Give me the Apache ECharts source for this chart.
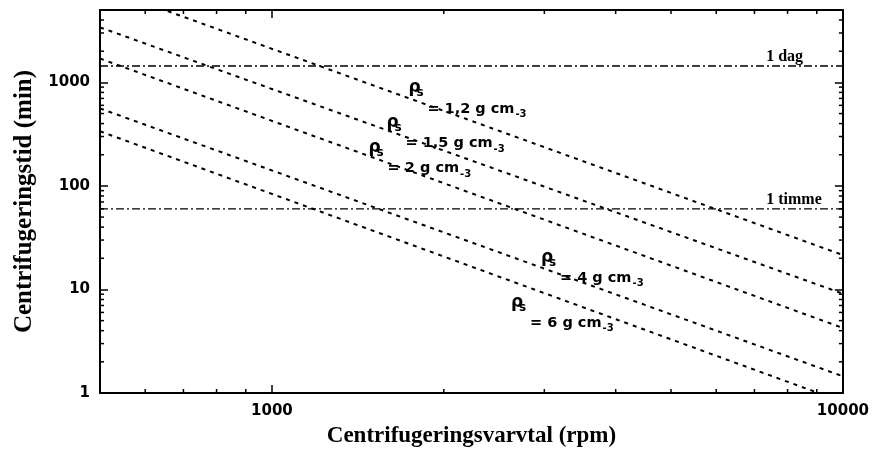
<!DOCTYPE html>
<html>
<head>
<meta charset="utf-8">
<script src="https://cdn.jsdelivr.net/npm/echarts@6/dist/echarts.min.js"></script>
<style>
  html, body { margin: 0; padding: 0; background: #fff; }
  #chart { width: 872px; height: 454px; }
</style>
</head>
<body>
<div id="chart"></div>
<script>
// Axis ranges (both logarithmic)
const rpmRange = [500, 10000];
const timeRange = [1, 5000];
const xTickLabels = [1000, 10000];
const yTickLabels = [1, 10, 100, 1000];
const xMinorTicks = [600, 700, 800, 900, 2000, 3000, 4000, 5000, 6000, 7000, 8000, 9000];
const yMinorTicks = [2, 3, 4, 5, 6, 7, 8, 9, 20, 30, 40, 50, 60, 70, 80, 90,
                     200, 300, 400, 500, 600, 700, 800, 900, 2000, 3000, 4000];

// Settling time (min) at the two ends of the speed range, one curve per particle density
const densities = ['1,2', '1,5', '2', '4', '6'];
const rpmEnds = [500, 10000];
const time12 = [8400, 21.5];
const time15 = [3400, 9.1];
const time2 = [1700, 4.25];
const time4 = [560, 1.45];
const time6 = [337, 0.82];
const curves = [time12, time15, time2, time4, time6];

// Reference durations (min)
const refLabels = ['1 dag', '1 timme'];
const refTimes = [1440, 60];
const refLabelRpm = 7340;

// Density labels: anchor of the rho symbol in data units (rpm, min)
const annRpm = [1741, 1594, 1483, 2972, 2634];
const annTime = [915, 422, 242, 21.2, 7.8];

const SANS = '"DejaVu Sans", sans-serif';
const SERIF = '"Liberation Serif", "Times New Roman", serif';

const chart = echarts.init(document.getElementById('chart'), null, { renderer: 'canvas' });

const axisLine = { show: true, onZero: false, lineStyle: { color: '#000', width: 2 } };
const majorTick = { show: true, inside: true, length: 8, lineStyle: { color: '#000', width: 1.5 } };

const series = curves.map((t, i) => ({
  type: 'line',
  name: densities[i],
  data: rpmEnds.map((r, k) => [r, t[k]]),
  symbol: 'none',
  clip: true,
  silent: true,
  lineStyle: { color: '#000', width: 2, type: [4, 5] }
}));

refTimes.forEach((t, i) => {
  series.push({
    type: 'line',
    name: refLabels[i],
    data: rpmRange.map(r => [r, t]),
    symbol: 'none',
    silent: true,
    lineStyle: { color: '#000', width: 1.3, type: [8, 3, 2, 3] }
  });
});

chart.setOption({
  animation: false,
  backgroundColor: '#fff',
  grid: { left: 100, right: 28, top: 10, bottom: 61, containLabel: false },
  xAxis: [{
    type: 'log', logBase: 10, min: rpmRange[0], max: rpmRange[1],
    position: 'bottom',
    axisLine, axisTick: majorTick,
    splitLine: { show: false },
    axisLabel: {
      formatter: v => (xTickLabels.includes(v) ? String(v) : ''),
      color: '#000', fontFamily: SANS, fontWeight: 'bold', fontSize: 15, margin: 11
    },
    name: 'Centrifugeringsvarvtal (rpm)',
    nameLocation: 'middle', nameGap: 32,
    nameTextStyle: { color: '#000', fontFamily: SERIF, fontWeight: 'bold', fontSize: 23 }
  }, {
    type: 'log', logBase: 10, min: rpmRange[0], max: rpmRange[1],
    position: 'top',
    axisLine, axisTick: majorTick,
    splitLine: { show: false }, axisLabel: { show: false }
  }],
  yAxis: [{
    type: 'log', logBase: 10, min: timeRange[0], max: timeRange[1],
    position: 'left',
    axisLine, axisTick: majorTick,
    splitLine: { show: false },
    axisLabel: {
      formatter: v => (yTickLabels.includes(v) ? String(v) : ''),
      color: '#000', fontFamily: SANS, fontWeight: 'bold', fontSize: 15, margin: 10
    },
    name: 'Centrifugeringstid (min)',
    nameLocation: 'middle', nameGap: 63,
    nameTextStyle: { color: '#000', fontFamily: SERIF, fontWeight: 'bold', fontSize: 25 }
  }, {
    type: 'log', logBase: 10, min: timeRange[0], max: timeRange[1],
    position: 'right',
    axisLine, axisTick: majorTick,
    splitLine: { show: false }, axisLabel: { show: false }
  }],
  series
});

// Minor ticks and text annotations, positioned through the axes' own scales
const toPx = (x, y) => chart.convertToPixel({ xAxisIndex: 0, yAxisIndex: 0 }, [x, y]);
const graphics = [];
const tickStyle = { stroke: '#000', lineWidth: 1.5 };
const MINOR = 4;

xMinorTicks.forEach(v => {
  const [xb, yb] = toPx(v, timeRange[0]);
  const [, yt] = toPx(v, timeRange[1]);
  graphics.push({ type: 'line', silent: true, shape: { x1: xb, y1: yb, x2: xb, y2: yb - MINOR }, style: tickStyle });
  graphics.push({ type: 'line', silent: true, shape: { x1: xb, y1: yt, x2: xb, y2: yt + MINOR }, style: tickStyle });
});
yMinorTicks.forEach(v => {
  const [xl, y] = toPx(rpmRange[0], v);
  const [xr] = toPx(rpmRange[1], v);
  graphics.push({ type: 'line', silent: true, shape: { x1: xl, y1: y, x2: xl + MINOR, y2: y }, style: tickStyle });
  graphics.push({ type: 'line', silent: true, shape: { x1: xr, y1: y, x2: xr - MINOR, y2: y }, style: tickStyle });
});

function text(str, x, y, font, align) {
  return {
    type: 'text', silent: true, x, y,
    style: { text: str, font, fill: '#000', align: align || 'left', verticalAlign: 'top' }
  };
}

// Reference-duration labels sit just above their lines
refTimes.forEach((t, i) => {
  const [x, y] = toPx(refLabelRpm, t);
  graphics.push({
    type: 'text', silent: true, x, y: y - 1,
    style: { text: refLabels[i], font: 'bold 16px ' + SERIF, fill: '#000', align: 'left', verticalAlign: 'bottom' }
  });
});

// Density labels: rho_s on the first line, "= n g cm-3" offset below
const measure = document.createElement('canvas').getContext('2d');
const eqFont = 'bold 14.5px ' + SANS;
measure.font = eqFont;
annRpm.forEach((r, i) => {
  const [x, y] = toPx(r, annTime[i]);
  const eq = '= ' + densities[i] + ' g cm';
  const w = measure.measureText(eq).width;
  graphics.push(text('ρ', x - 1, y - 7, 'bold 17px ' + SANS));
  graphics.push(text('s', x + 7, y + 1, 'bold 12px ' + SANS));
  graphics.push(text(eq, x + 18, y + 15, eqFont));
  graphics.push(text('-3', x + 18 + w + 1, y + 23, 'bold 10px ' + SANS));
});

chart.setOption({ graphic: graphics });
</script>
</body>
</html>
